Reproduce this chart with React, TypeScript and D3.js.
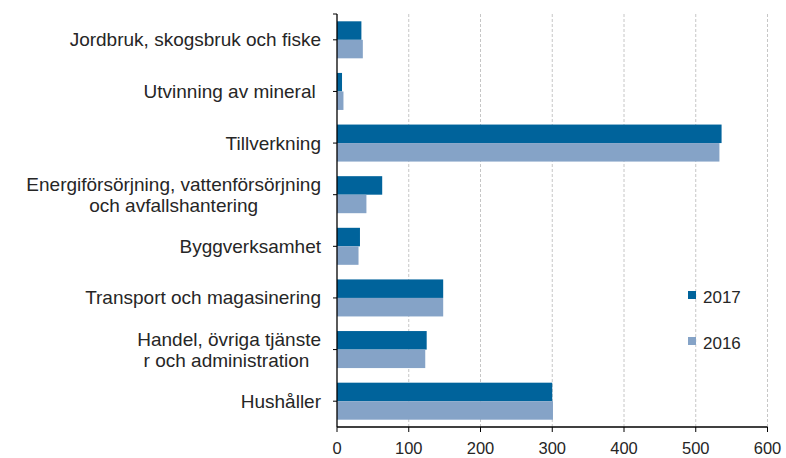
import React from "react";
import * as d3 from "d3";

const categories = [
  "Jordbruk, skogsbruk och fiske",
  "Utvinning av mineral ",
  "Tillverkning",
  "Energiförsörjning, vattenförsörjning|och avfallshantering",
  "Byggverksamhet",
  "Transport och magasinering",
  "Handel, övriga tjänste|r och administration ",
  "Hushåller",
];
const values2017 = [34, 7, 536, 63, 32, 148, 125, 300];
const values2016 = [36, 9, 533, 41, 30, 148, 123, 301];
const seriesNames = ["2017", "2016"];
const seriesColors = ["#00639b", "#85a3c7"];
const xTicks = [0, 100, 200, 300, 400, 500, 600];

const W = 786;
const H = 458;
const FONT = "'Liberation Sans', Arial, sans-serif";
const LABEL_SIZE = 19;
const TICK_SIZE = 16.5;

let ctx: CanvasRenderingContext2D | null = null;
function measure(t: string, size: number) {
  if (!ctx) ctx = document.createElement("canvas").getContext("2d");
  if (!ctx) return t.length * size * 0.5;
  ctx.font = `${size}px ${FONT}`;
  return ctx.measureText(t).width;
}

export default function App() {
  const x = d3.scaleLinear().domain([0, 600]).range([337, 767.5]);
  const y = d3
    .scaleBand<string>()
    .domain(categories)
    .range([14, 427])
    .paddingInner(0.283)
    .paddingOuter(0.1415);
  const inner = d3
    .scaleBand<string>()
    .domain(seriesNames)
    .range([0, y.bandwidth()]);
  const series = [values2017, values2016];
  const labelRight = 321;
  const textColor = "#262626";

  return (
    <svg
      width={W}
      height={H}
      style={{ position: "absolute", left: 0, top: 0, background: "#fff" }}
      fontFamily={FONT}
    >
      {/* grid */}
      {xTicks.slice(1).map((t) => (
        <line
          key={"g" + t}
          x1={x(t)}
          x2={x(t)}
          y1={14}
          y2={427}
          stroke="#c6c6c6"
          strokeWidth={1}
          strokeDasharray="3,2"
        />
      ))}
      {/* bars */}
      {categories.map((c, i) => (
        <g key={c} transform={`translate(0,${y(c)})`}>
          {series.map((vals, s) => (
            <rect
              key={s}
              x={x(0)}
              y={inner(seriesNames[s])}
              width={x(vals[i]) - x(0)}
              height={inner.bandwidth()}
              fill={seriesColors[s]}
            />
          ))}
        </g>
      ))}
      {/* y axis */}
      <line x1={x(0)} x2={x(0)} y1={14} y2={427} stroke="#000" strokeWidth={1.3} />
      <line x1={x(0) - 4} x2={x(0)} y1={14} y2={14} stroke="#000" strokeWidth={1} />
      {categories.map((c) => {
        const cy = (y(c) as number) + y.bandwidth() / 2;
        const lines = c.split("|");
        let content;
        if (lines.length === 1) {
          content = (
            <text
              x={labelRight}
              y={cy + 6.5}
              textAnchor="end"
              fontSize={LABEL_SIZE}
              fill={textColor}
              style={{ whiteSpace: "pre" }}
            >
              {lines[0]}
            </text>
          );
        } else {
          const w = Math.max(...lines.map((l) => measure(l, LABEL_SIZE)));
          const cx = labelRight - w / 2;
          content = lines.map((l, k) => (
            <text
              key={k}
              x={cx}
              y={cy - 4 + k * 21.5}
              textAnchor="middle"
              fontSize={LABEL_SIZE}
              fill={textColor}
              style={{ whiteSpace: "pre" }}
            >
              {l}
            </text>
          ));
        }
        return (
          <g key={"l" + c}>
            <line x1={x(0) - 4} x2={x(0)} y1={cy} y2={cy} stroke="#000" strokeWidth={1} />
            {content}
          </g>
        );
      })}
      {/* x axis */}
      <line x1={x(0)} x2={x(600)} y1={427} y2={427} stroke="#000" strokeWidth={1.3} />
      {xTicks.map((t) => (
        <g key={"t" + t}>
          <line x1={x(t)} x2={x(t)} y1={427} y2={432} stroke="#000" strokeWidth={1} />
          <text
            x={x(t)}
            y={454}
            textAnchor="middle"
            fontSize={TICK_SIZE}
            fill={textColor}
          >
            {t}
          </text>
        </g>
      ))}
      {/* legend */}
      {seriesNames.map((n, s) => (
        <g key={"lg" + n} transform={`translate(688,${291 + s * 46})`}>
          <rect x={0} y={0} width={8} height={8} fill={seriesColors[s]} />
          <text x={15} y={12} fontSize={TICK_SIZE + 0.5} fill={textColor}>
            {n}
          </text>
        </g>
      ))}
    </svg>
  );
}
